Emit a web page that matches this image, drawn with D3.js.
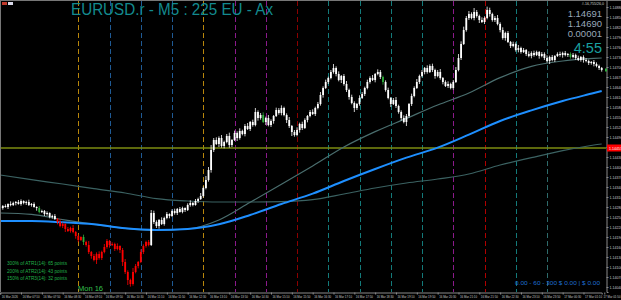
<!DOCTYPE html>
<html>
<head>
<meta charset="utf-8">
<script src="https://cdn.jsdelivr.net/npm/d3@7"></script>
<style>
body { margin: 0; background: #000; overflow: hidden; }
svg { display: block; font-family: "Liberation Sans", Arial, sans-serif; }
</style>
</head>
<body>
<div id="chart"></div>
<script>
// prices are kept in points (0.00001) above 1.14000
var basePrice = 1.14;
var firstOpen = 280;
var closes = [
	277,283,280,289,286,292,295,289,298,292,295,286,289,280,277,265,268,259,262,250,
	253,244,235,223,229,214,208,217,205,193,181,190,175,166,145,133,121,139,127,145,
	160,178,166,169,154,163,151,115,85,61,49,85,103,115,145,163,175,166,262,235,
	223,241,229,247,259,253,268,262,274,265,277,271,286,292,286,298,304,313,337,361,
	391,451,481,469,487,463,475,493,466,481,502,487,508,499,523,514,535,526,565,547,
	556,535,547,526,538,553,571,562,577,556,541,523,505,496,511,529,517,541,553,565,
	559,577,589,616,637,655,667,685,697,679,661,673,649,631,610,592,577,589,607,619,
	637,655,667,661,679,685,670,655,631,607,589,601,583,565,547,535,553,589,613,637,
	655,673,685,697,685,703,691,673,685,667,655,643,649,637,655,691,727,769,811,847,
	859,847,865,853,841,835,847,871,859,841,847,829,811,787,802,775,763,769,751,757,
	745,751,739,733,742,736,745,733,739,727,718,730,721,733,739,736,742,736,739,730,
	736,727,721,730,721,718,712,715,709,703,697,691
];
var wickHi = [
	6,3,5,2,8,4,3,6,5,2,4,7,3,5,2,6,4,3,5,2,
	4,6,3,8,5,2,6,4,9,3,5,2,7,4,12,3,6,5,8,4,
	9,6,3,5,4,8,2,6,9,5,4,12,6,3,8,5,4,6,9,7,
	5,3,8,4,6,2,5,7,3,6,4,2,5,8,3,6,4,9,5,12,
	9,15,6,8,5,9,4,6,10,3,7,5,8,4,6,9,3,7,12,5,
	6,8,4,9,5,3,7,6,8,4,5,9,3,6,8,4,7,5,3,6,
	8,4,6,9,5,7,4,6,12,5,8,3,6,9,4,7,5,3,8,6,
	4,7,5,9,3,8,6,4,5,7,3,6,9,4,5,8,6,3,7,5,
	9,4,6,3,8,5,7,4,6,9,3,5,8,4,6,9,12,8,10,6,
	9,5,12,6,4,8,5,10,7,4,6,9,5,8,4,6,3,7,5,9,
	4,6,3,8,5,7,4,3,6,5,8,4,6,3,5,7,4,6,3,5,
	6,4,7,3,5,6,4,3,6,5,4,3
];
var wickLo = [
	3,5,2,6,4,3,7,2,5,4,6,3,5,2,8,4,3,6,5,4,
	5,3,7,4,6,9,3,5,4,8,6,3,9,5,6,8,4,12,5,6,
	4,5,8,3,6,4,9,12,6,15,8,5,4,7,3,6,5,4,3,6,
	6,8,3,5,4,7,3,5,6,2,4,6,3,5,4,2,6,3,5,4,
	5,8,6,3,9,5,7,4,8,6,3,9,5,4,7,3,6,5,4,8,
	5,3,9,4,6,8,3,5,7,4,9,6,12,5,4,8,6,3,7,4,
	3,6,4,5,8,3,6,4,5,7,4,9,5,6,8,4,12,6,5,3,
	6,4,5,3,7,4,6,8,5,4,9,3,6,5,8,4,12,5,6,4,
	3,6,4,7,5,3,6,8,4,5,7,3,6,4,5,3,4,6,3,5,
	6,4,7,5,9,3,6,4,8,5,6,4,7,5,8,3,6,4,5,7,
	5,3,6,4,7,5,3,8,4,6,5,9,4,6,3,5,8,4,6,5,
	4,6,3,5,8,4,6,5,7,4,6,5
];
var redBars = [22, 57];
var greenBars = [15, 32, 101, 147, 219];

// moving averages, read at every 12th bar
var maIdx = [0,12,24,36,48,60,72,84,96,108,120,132,144,156,168,180,192,204,216,228,231];
var maBlue = [238,238,234,228,216,211,214,228,256,289,320,358,394,428,458,497,538,570,598,622,628];
var maSlow = [376,362,349,335,322,305,298,295,295,296,302,319,337,352,364,379,406,428,449,466,469];
var maFast = [262,258,242,228,216,210,214,241,294,348,403,460,506,546,586,622,668,702,718,726,727];

var hourLines = [30,42,54,66,78,90,102,114,126,138,150,162,174,186,198,210];
var hourColors = ["#b8860b","#1f5a94","#1f5a94","#1f5a94","#b8860b","#8b1a8b","#8b1a8b","#8b0000",
	"#137a7a","#137a7a","#137a7a","#137a7a","#8b1a8b","#b00000","#137a7a","#2e6b6b"];

var timeLabels = ["16 Mar 2026","16 Mar 07:10","16 Mar 07:50","16 Mar 08:30","16 Mar 09:10","16 Mar 09:50",
	"16 Mar 10:30","16 Mar 11:10","16 Mar 11:50","16 Mar 12:30","16 Mar 13:10","16 Mar 13:50",
	"16 Mar 14:30","16 Mar 15:10","16 Mar 15:50","16 Mar 16:30","16 Mar 17:10","16 Mar 17:50",
	"16 Mar 18:30","16 Mar 19:10","16 Mar 19:50","16 Mar 20:30","16 Mar 21:10","16 Mar 21:50",
	"16 Mar 22:30","16 Mar 23:10","16 Mar 23:50","17 Mar 00:30","17 Mar 01:10","17 Mar 01:50"];

var levelPrice = 1.14457;
var infoLines = ["1.14691", "1.14690", "0.00001"];
var timerText = "4:55";
var atrLines = ["300% of ATR1(14): 65 points", "200% of ATR2(14): 43 points", "150% of ATR3(14): 32 points"];
var titleText = "EURUSD.r - M5 : 225 EU - Ax";
var dayText = "Mon 16";
var plText = "0.00 - 60 - 300  $ 0.00 | $ 0.00";

var width = 621, height = 300;
var plotR = 606, plotB = 292;

function px(p) { return basePrice + p / 100000; }

var svg = d3.select("#chart").append("svg")
	.attr("width", width)
	.attr("height", height);

svg.append("rect").attr("width", width).attr("height", height).attr("fill", "#000");

var x = d3.scaleLinear()
	.domain([0, closes.length - 1])
	.range([0.2, 601.7]);

var y = d3.scaleLinear()
	.domain([1.14025, 1.14901])
	.range([plotB, 0]);

// hourly separators
svg.selectAll("line.hour")
	.data(hourLines)
	.enter()
	.append("line")
	.attr("class", "hour")
	.attr("x1", function(d) { return Math.round(x(d)) + 0.5; })
	.attr("x2", function(d) { return Math.round(x(d)) + 0.5; })
	.attr("y1", 1)
	.attr("y2", plotB)
	.attr("stroke", function(d, i) { return hourColors[i]; })
	.attr("stroke-width", 1)
	.attr("stroke-dasharray", "5,3");

// level line
svg.append("line")
	.attr("x1", 0).attr("x2", plotR)
	.attr("y1", y(levelPrice)).attr("y2", y(levelPrice))
	.attr("stroke", "#7c8c10")
	.attr("stroke-width", 1.6);

// moving averages
function maLine(vals) {
	return d3.line()
		.x(function(d, i) { return x(maIdx[i]); })
		.y(function(d) { return y(px(d)); })
		.curve(d3.curveMonotoneX)(vals);
}
svg.append("path").attr("d", maLine(maSlow)).attr("fill", "none")
	.attr("stroke", "#3b6262").attr("stroke-width", 1.2);
svg.append("path").attr("d", maLine(maFast)).attr("fill", "none")
	.attr("stroke", "#4a6e6e").attr("stroke-width", 1.2);
svg.append("path").attr("d", maLine(maBlue)).attr("fill", "none")
	.attr("stroke", "#1e8fff").attr("stroke-width", 2);

// candles
var bars = closes.map(function(c, i) {
	var o = i == 0 ? firstOpen : closes[i - 1];
	return {i: i, o: o, c: c, h: Math.max(o, c) + wickHi[i], l: Math.min(o, c) - wickLo[i]};
});
function barColor(d) {
	if (greenBars.indexOf(d.i) >= 0) return "#2fae3c";
	if (d.i >= redBars[0] && d.i <= redBars[1]) return "#ff0000";
	return "#ffffff";
}
var g = svg.append("g");
g.selectAll("line.wick")
	.data(bars)
	.enter()
	.append("line")
	.attr("x1", function(d) { return x(d.i); })
	.attr("x2", function(d) { return x(d.i); })
	.attr("y1", function(d) { return y(px(d.h)); })
	.attr("y2", function(d) { return y(px(d.l)); })
	.attr("stroke", barColor)
	.attr("stroke-width", 0.8);
g.selectAll("rect.body")
	.data(bars)
	.enter()
	.append("rect")
	.attr("x", function(d) { return x(d.i) - 0.9; })
	.attr("width", 1.8)
	.attr("y", function(d) { return y(px(Math.max(d.o, d.c))); })
	.attr("height", function(d) { return Math.max(1, Math.abs(y(px(d.o)) - y(px(d.c)))); })
	.attr("fill", barColor);

// axes
svg.append("rect").attr("x", plotR).attr("y", 0).attr("width", width - plotR).attr("height", height).attr("fill", "#000");
svg.append("rect").attr("x", 0).attr("y", plotB).attr("width", width).attr("height", height - plotB).attr("fill", "#000");

var yAxis = d3.axisRight(y)
	.tickValues(d3.range(1.1404, 1.14895, 0.0003))
	.tickSize(2)
	.tickFormat(d3.format(".5f"));
var ya = svg.append("g")
	.attr("transform", "translate(" + (plotR + 0.5) + ",0)")
	.call(yAxis);
ya.select(".domain").attr("stroke", "#8a8a8a");
ya.selectAll(".tick line").attr("stroke", "#8a8a8a");
ya.selectAll(".tick text").attr("fill", "#c8c8c8").attr("font-size", 3.6).attr("x", 3);

var xAxis = d3.axisBottom(x)
	.tickValues(d3.range(0, 233, 8))
	.tickSize(2)
	.tickFormat(function(d, i) { return timeLabels[i]; });
var xa = svg.append("g")
	.attr("transform", "translate(0," + (plotB + 0.5) + ")")
	.call(xAxis);
xa.select(".domain").attr("stroke", "#8a8a8a");
xa.selectAll(".tick line").attr("stroke", "#8a8a8a");
xa.selectAll(".tick text").attr("fill", "#c8c8c8").attr("font-size", 2.9)
	.attr("text-anchor", function(d, i) { return i == timeLabels.length - 1 ? "end" : "start"; })
	.attr("y", 3.5)
	.attr("x", function(d, i) { return i == timeLabels.length - 1 ? (width - 1 - x(d)) : 1; });

// price label of level line
svg.append("rect")
	.attr("x", plotR + 1).attr("y", y(levelPrice) - 3.5)
	.attr("width", width - plotR - 1).attr("height", 7)
	.attr("fill", "#ff0000");
svg.append("text")
	.attr("x", plotR + 3).attr("y", y(levelPrice) + 1.5)
	.attr("fill", "#fff").attr("font-size", 3.6)
	.text(levelPrice.toFixed(5));
svg.append("rect")
	.attr("x", plotR - 1).attr("y", y(px(closes[closes.length - 1])) - 1.5)
	.attr("width", 2).attr("height", 3).attr("fill", "#2fae3c");

// frame
svg.append("line").attr("x1", 0).attr("x2", width).attr("y1", 0.5).attr("y2", 0.5).attr("stroke", "#777");
svg.append("line").attr("x1", 0.5).attr("x2", 0.5).attr("y1", 0).attr("y2", plotB).attr("stroke", "#777");
svg.append("rect").attr("x", 2).attr("y", 2).attr("width", 5).attr("height", 3).attr("fill", "#c0392b");
svg.append("rect").attr("x", 8).attr("y", 2).attr("width", 5).attr("height", 3).attr("fill", "#d8d8e8");

// texts
svg.append("text")
	.attr("x", 71).attr("y", 15)
	.attr("fill", "#138a8f")
	.attr("font-size", 16)
	.attr("textLength", 202)
	.attr("lengthAdjust", "spacingAndGlyphs")
	.text(titleText);

svg.append("text")
	.attr("x", 604).attr("y", 4.5)
	.attr("text-anchor", "end")
	.attr("fill", "#d0d0d0").attr("font-size", 3.6)
	.text("#-16,755/26,0");

svg.selectAll("text.info")
	.data(infoLines)
	.enter()
	.append("text")
	.attr("x", 602)
	.attr("y", function(d, i) { return 16.5 + i * 10.3; })
	.attr("text-anchor", "end")
	.attr("fill", "#98a9ba")
	.attr("font-size", 9.5)
	.text(function(d) { return d; });

svg.append("text")
	.attr("x", 602).attr("y", 53)
	.attr("text-anchor", "end")
	.attr("fill", "#1aa0a0")
	.attr("font-size", 14.5)
	.text(timerText);

svg.selectAll("text.atr")
	.data(atrLines)
	.enter()
	.append("text")
	.attr("x", 7)
	.attr("y", function(d, i) { return 265 + i * 7.5; })
	.attr("fill", "#21b24a")
	.attr("font-size", 5)
	.attr("textLength", 60)
	.attr("lengthAdjust", "spacingAndGlyphs")
	.text(function(d) { return d; });

svg.append("text")
	.attr("x", 78).attr("y", 291)
	.attr("fill", "#35c24f")
	.attr("font-size", 7.5)
	.text(dayText);

svg.append("text")
	.attr("x", 515).attr("y", 285)
	.attr("fill", "#1f6fd1")
	.attr("font-size", 6)
	.attr("textLength", 85)
	.attr("lengthAdjust", "spacingAndGlyphs")
	.text(plText);
</script>
</body>
</html>
